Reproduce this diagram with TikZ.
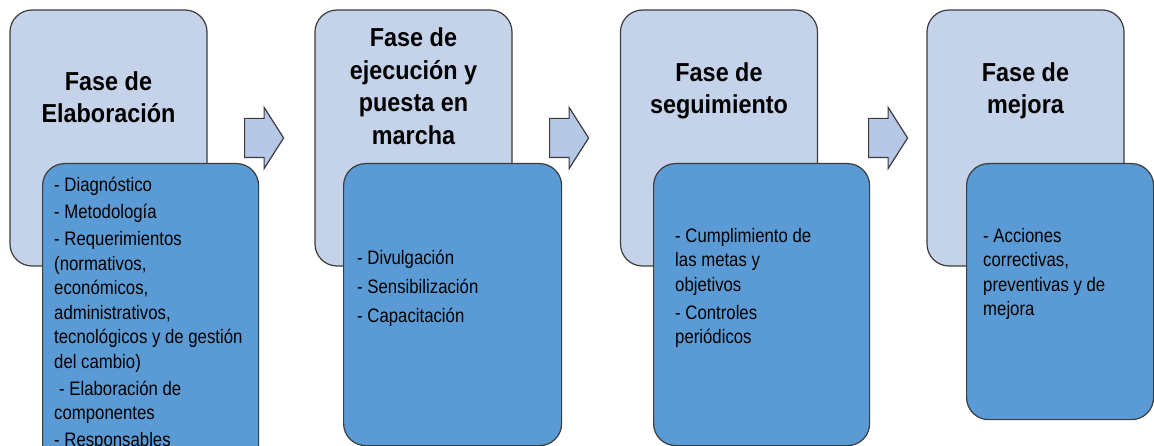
\documentclass[tikz,border=0pt]{standalone}
\usepackage{fontspec}
\setmainfont{Liberation Sans}[FakeStretch=0.9]
\newfontfamily\itemfont{Liberation Sans}[FakeStretch=0.86]
\usetikzlibrary{positioning,shapes.arrows,calc}

\definecolor{phaselight}{RGB}{197,211,234}
\definecolor{phasedark}{RGB}{91,155,213}
\definecolor{arrowfill}{RGB}{182,200,230}
\definecolor{edgegray}{RGB}{60,60,60}

\begin{document}
\begin{tikzpicture}[
    x=1pt, y=-1pt,
    phase/.style={draw=edgegray, line width=1.2pt, fill=phaselight, rounded corners=22pt, minimum width=197pt, minimum height=256pt, inner sep=0pt},
    detail/.style={draw=edgegray, line width=1.2pt, fill=phasedark, rounded corners=22pt, inner sep=0pt, anchor=north west},
    title/.style={font=\fontsize{26}{32.5}\selectfont\bfseries, align=center, inner sep=0pt},
    items/.style={font=\itemfont\fontsize{19.5}{24.5}\selectfont, align=left, inner sep=0pt, anchor=north west},
    blockarr/.style={single arrow, draw=edgegray, line width=1.2pt, fill=arrowfill, inner sep=0pt, text height=19pt, text depth=19pt, minimum height=39pt, single arrow head extend=11pt, single arrow tip angle=115, anchor=tail}
]
\useasboundingbox (0,0) rectangle (1154,446);
\clip (0,0) rectangle (1154,446);

% phases
\node[phase] (ph1) at (108.5,138) {};
\node[phase] (ph2) at (413.5,138) {};
\node[phase] (ph3) at (719,138) {};
\node[phase] (ph4) at (1025.5,138) {};

\node[title] (tit1) at (108.5,97) {Fase de\\ Elaboración};
\node[title] (tit2) at (413.5,86) {Fase de\\ ejecución y\\ puesta en\\ marcha};
\node[title] (tit3) at (719,91) {Fase de\\ seguimiento};
\node[title] (tit4) at (1025.5,91) {Fase de\\ mejora};

% details
\node[detail, minimum width=216pt, minimum height=310pt] (det1) at (42,163) {};
\node[detail, minimum width=218pt, minimum height=282pt] (det2) at (343,163) {};
\node[detail, minimum width=216pt, minimum height=282pt] (det3) at (653,163) {};
\node[detail, minimum width=187pt, minimum height=256pt] (det4) at (966,163) {};

\node[items] (it1) at (54,177) {- Diagnóstico\\[2.5pt] - Metodología\\[2.5pt] - Requerimientos\\ (normativos,\\ económicos,\\ administrativos,\\ tecnológicos y de gestión\\ del cambio)\\[2.5pt] \hspace*{5pt}- Elaboración de\\ componentes\\[2.5pt] - Responsables};
\node[items] (it2) at (357,250) {- Divulgación\\[4.5pt] - Sensibilización\\[4.5pt] - Capacitación};
\node[items] (it3) at (675,228) {- Cumplimiento de\\ las metas y\\ objetivos\\[3.5pt] - Controles\\ periódicos};
\node[items] (it4) at (983,228) {- Acciones\\ correctivas,\\ preventivas y de\\ mejora};

% arrows between phases
\node[blockarr] (arr1) at (244,138) {};
\node[blockarr] (arr2) at (549,138) {};
\node[blockarr] (arr3) at (868,138) {};
\end{tikzpicture}
\end{document}
